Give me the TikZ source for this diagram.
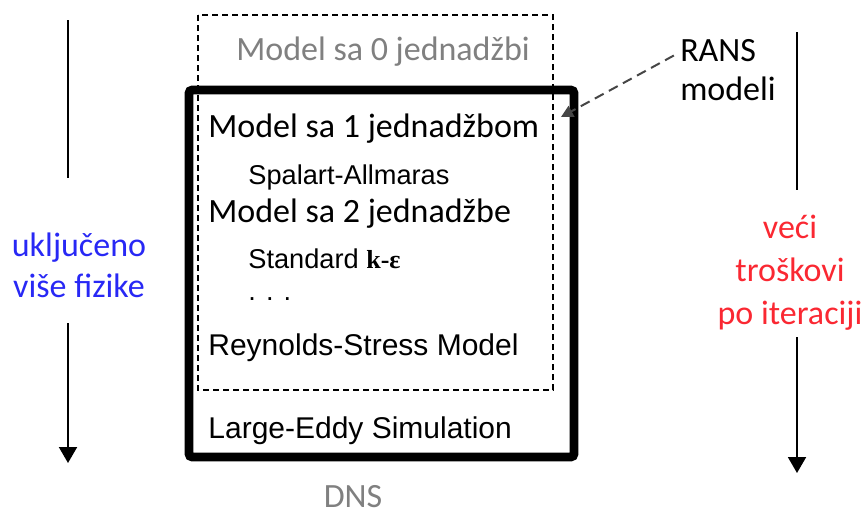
\documentclass[tikz,border=0pt]{standalone}
\usepackage{fontspec}
\setmainfont{Carlito}
\newfontfamily\arialfont{Liberation Sans}
\newfontfamily\timesfont{Liberation Serif}
\usetikzlibrary{arrows.meta}
\definecolor{sivo}{RGB}{128,128,128}
\definecolor{tamnosivo}{RGB}{70,70,70}
\definecolor{plavo}{RGB}{40,40,245}
\definecolor{crveno}{RGB}{250,40,50}

\begin{document}
\begin{tikzpicture}[x=0.5pt, y=-0.5pt, inner sep=0pt,
    every node/.style={font=\fontsize{17}{20.5}\selectfont},
    arialv/.style={font=\arialfont\fontsize{15}{18}\selectfont},
    arialm/.style={font=\arialfont\fontsize{13.6}{16}\selectfont},
    strelica/.style={line width=1pt, -{Triangle[width=9pt,length=8pt]}}]
    \useasboundingbox (0,0) rectangle (865,514);
    % okviri
    \draw[line width=0.8pt, dash pattern=on 3pt off 2pt] (198,15) rectangle (553,390);
    \draw[line width=4.3pt, rounded corners=1.5pt] (189,90) rectangle (574,457);
    % tekst u okvirima
    \node (nula) [anchor=base, text=sivo] at (383,60) {Model sa 0 jednadžbi};
    \node (jedna) [anchor=base west] at (208,137) {Model sa 1 jednadžbom};
    \node (sa) [anchor=base west, arialm] at (248,184) {Spalart-Allmaras};
    \node (dvije) [anchor=base west] at (208,222) {Model sa 2 jednadžbe};
    \node (ke) [anchor=base west, arialm] at (248,268) {Standard {\timesfont\bfseries\fontsize{13}{16}\selectfont k-ε}};
    \node (tocke) [anchor=base west, arialm] at (248,300) {. . .};
    \node (rsm) [anchor=base west, arialv] at (208,355) {Reynolds-Stress Model};
    \node (les) [anchor=base west, arialv] at (208,438) {Large-Eddy Simulation};
    \node (dns) [anchor=base, text=sivo] at (353,507) {DNS};
    % RANS
    \node (rans) [align=left, font=\fontsize{17}{19.5}\selectfont, inner sep=3pt] at (728,70) {RANS\\modeli};
    \coordinate (vrh) at (561,117);
    \draw[tamnosivo, line width=1pt, dash pattern=on 5pt off 3pt,
          -{Triangle[width=6pt,length=6pt]}] (rans.165) -- (vrh);
    % lijeva strelica
    \node (fizika) [align=center, text=plavo] at (79,265) {uključeno\\više fizike};
    \coordinate (l1) at (68,20);
    \coordinate (l2) at (68,178);
    \coordinate (l3) at (68,323);
    \coordinate (l4) at (68,463);
    \draw[line width=1pt] (l1) -- (l2);
    \draw[strelica] (l3) -- (l4);
    % desna strelica
    \node (troskovi) [align=center, text=crveno, font=\fontsize{17}{21.5}\selectfont] at (790,273) {veći\\troškovi\\po iteraciji};
    \coordinate (d1) at (797,32);
    \coordinate (d2) at (797,190);
    \coordinate (d3) at (797,337);
    \coordinate (d4) at (797,473);
    \draw[line width=1pt] (d1) -- (d2);
    \draw[strelica] (d3) -- (d4);
\end{tikzpicture}
\end{document}
